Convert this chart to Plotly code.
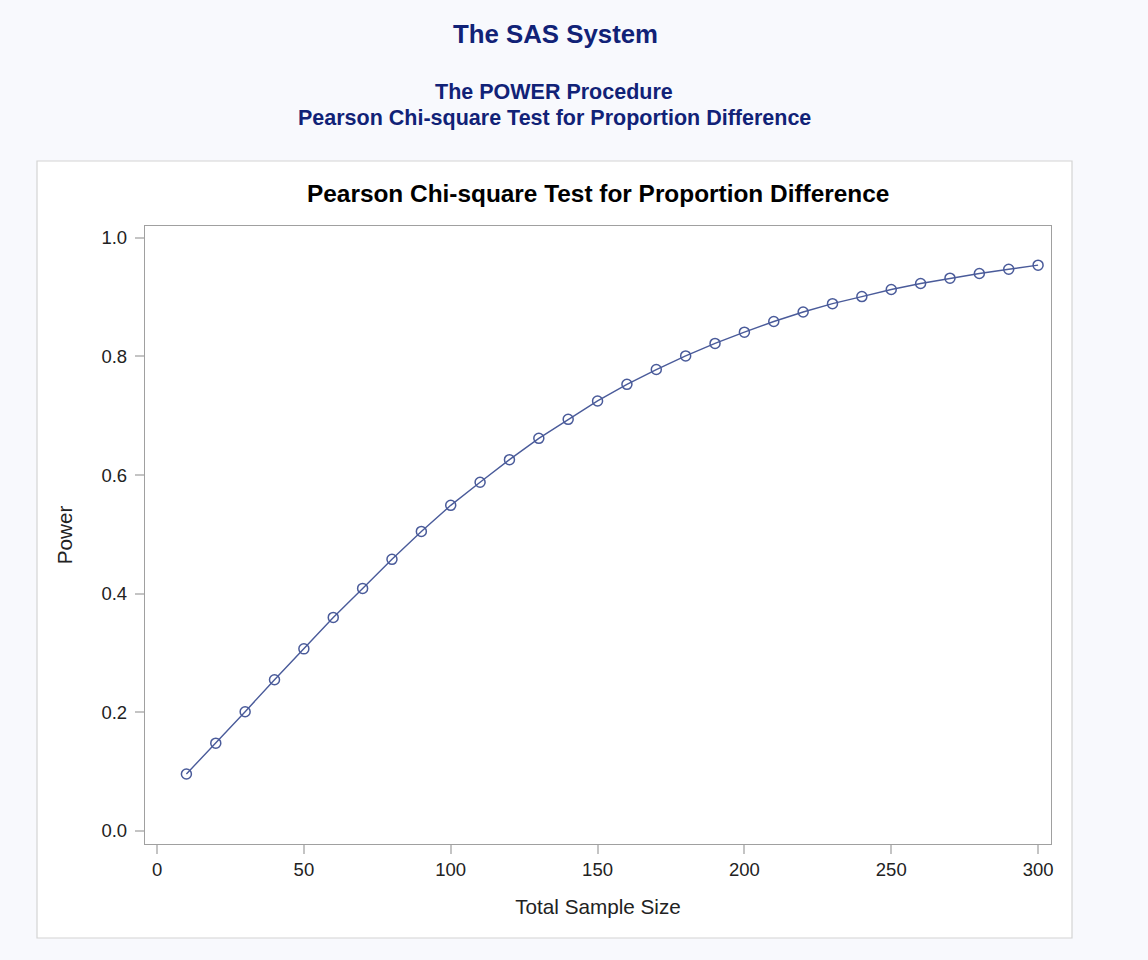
import plotly.graph_objects as go

# Total sample size and the corresponding computed power
sample_size = [10, 20, 30, 40, 50, 60, 70, 80, 90, 100,
               110, 120, 130, 140, 150, 160, 170, 180, 190, 200,
               210, 220, 230, 240, 250, 260, 270, 280, 290, 300]
power = [0.096, 0.148, 0.201, 0.255, 0.307, 0.360, 0.409, 0.458, 0.505, 0.549,
         0.588, 0.626, 0.662, 0.694, 0.725, 0.753, 0.778, 0.801, 0.822, 0.841,
         0.859, 0.875, 0.889, 0.901, 0.913, 0.923, 0.932, 0.940, 0.947, 0.954]

x_ticks = [0, 50, 100, 150, 200, 250, 300]
y_ticks = [0.0, 0.2, 0.4, 0.6, 0.8, 1.0]
y_tick_text = ["0.0", "0.2", "0.4", "0.6", "0.8", "1.0"]

W, H = 1148, 960
L, R, T, B = 145, 1051, 226, 844  # plot-area pixel box

def px(x):
    return (x - L) / (R - L)

def py(y):
    return (B - y) / (B - T)

TITLE_BLUE = "#112277"
DATA_BLUE = "#4a5b9a"
FONT = "Liberation Sans, Arial, sans-serif"

fig = go.Figure()
fig.add_trace(go.Scatter(
    x=sample_size, y=power, mode="lines+markers",
    line=dict(color=DATA_BLUE, width=1.4),
    marker=dict(symbol="circle-open", size=10, color=DATA_BLUE,
                line=dict(width=1.5, color=DATA_BLUE)),
    showlegend=False, hoverinfo="x+y",
))

# white graph panel with a thin grey border
fig.add_shape(type="rect", xref="paper", yref="paper", layer="below",
              x0=px(37), x1=px(1072), y0=py(938), y1=py(161),
              fillcolor="white", line=dict(color="#d4d4d4", width=1.2))

annos = [
    ("<b>The SAS System</b>", 555, 34, 25.8, TITLE_BLUE),
    ("<b>The POWER Procedure</b>", 554, 92, 21.5, TITLE_BLUE),
    ("<b>Pearson Chi-square Test for Proportion Difference</b>", 554, 118, 21.5, TITLE_BLUE),
    ("<b>Pearson Chi-square Test for Proportion Difference</b>", 598, 194, 24.4, "black"),
]
for text, x, y, size, color in annos:
    fig.add_annotation(text=text, xref="paper", yref="paper", x=px(x), y=py(y),
                       xanchor="center", yanchor="middle", showarrow=False,
                       font=dict(family=FONT, size=size, color=color))

axis_common = dict(
    showline=True, linecolor="#a0a0a0", linewidth=1.3, mirror=True,
    showgrid=False, zeroline=False,
    ticks="outside", ticklen=9, tickwidth=1.5, tickcolor="#c4c4c4",
    tickfont=dict(family=FONT, size=18.5, color="#222222"),
)

fig.update_xaxes(range=[-4.1, 304.4], tickvals=x_ticks,
                 title=dict(text="Total Sample Size", standoff=20,
                            font=dict(family=FONT, size=20.7, color="#222222")),
                 ticklabelstandoff=0, **axis_common)
fig.update_yaxes(range=[-0.022, 1.020], tickvals=y_ticks, ticktext=y_tick_text,
                 title=dict(text="Power", standoff=23,
                            font=dict(family=FONT, size=20.7, color="#222222")),
                 ticklabelstandoff=4, **axis_common)

fig.update_layout(
    width=W, height=H,
    margin=dict(l=L, r=W - R, t=T, b=H - B, autoexpand=False),
    paper_bgcolor="#f8f9fd", plot_bgcolor="white",
    font=dict(family=FONT),
)

fig.write_html("out.html")
